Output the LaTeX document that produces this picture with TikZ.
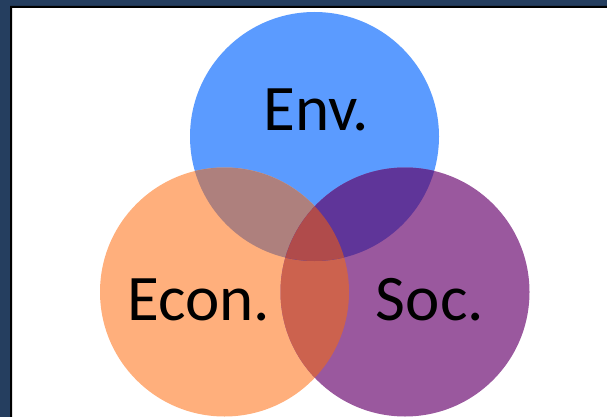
\documentclass[tikz,border=0pt]{standalone}
\usepackage{fontspec}
\setmainfont{Carlito}
\usetikzlibrary{positioning}

\definecolor{FrameNavy}{HTML}{253E5F}
\definecolor{EnvBlue}{HTML}{5B9BFF}
\definecolor{EconOrange}{HTML}{FFAF7C}
\definecolor{SocPurple}{HTML}{9A589E}
\definecolor{EnvEcon}{HTML}{AE807D}
\definecolor{EnvSoc}{HTML}{5F3599}
\definecolor{EconSoc}{HTML}{CC624E}
\definecolor{AllThree}{HTML}{B04B4B}

\begin{document}
\begin{tikzpicture}[
        %Environment config
        x=1pt, y=-1pt,
        font=\fontsize{65}{78}\selectfont,
        %Environment styles
        SetCfg/.style={
            circle,
            inner sep=0pt,
            minimum size=249pt,
            fill=#1
        },
        LabelCfg/.style={
            anchor=base,
            inner sep=0pt,
            text=black
        }
    ]
    \useasboundingbox (0,0) rectangle (607,417);
    % frame
    \fill[FrameNavy] (0,0) rectangle (607,6) (0,0) rectangle (10,417);
    \fill[black] (10,6) rectangle (607,8) (10,6) rectangle (12,417);

    % the three sets
    \path
        (314.5,136.5) node[SetCfg=EnvBlue](EnvC){}
        (224.5,292) node[SetCfg=EconOrange](EconC){}
        (405,292) node[SetCfg=SocPurple](SocC){};

    % overlaps
    \begin{scope}
        \clip (EconC.center) circle (124.5pt);
        \fill[EconSoc] (SocC.center) circle (124.5pt);
    \end{scope}
    \begin{scope}
        \clip (EnvC.center) circle (124.5pt);
        \fill[EnvEcon] (EconC.center) circle (124.5pt);
        \fill[EnvSoc] (SocC.center) circle (124.5pt);
        \clip (EconC.center) circle (124.5pt);
        \fill[AllThree] (SocC.center) circle (124.5pt);
    \end{scope}

    % labels
    \path
        (316,130) node[LabelCfg](EnvL){Env.}
        (198.5,320) node[LabelCfg](EconL){Econ.}
        (430,320) node[LabelCfg](SocL){Soc.};
\end{tikzpicture}
\end{document}
